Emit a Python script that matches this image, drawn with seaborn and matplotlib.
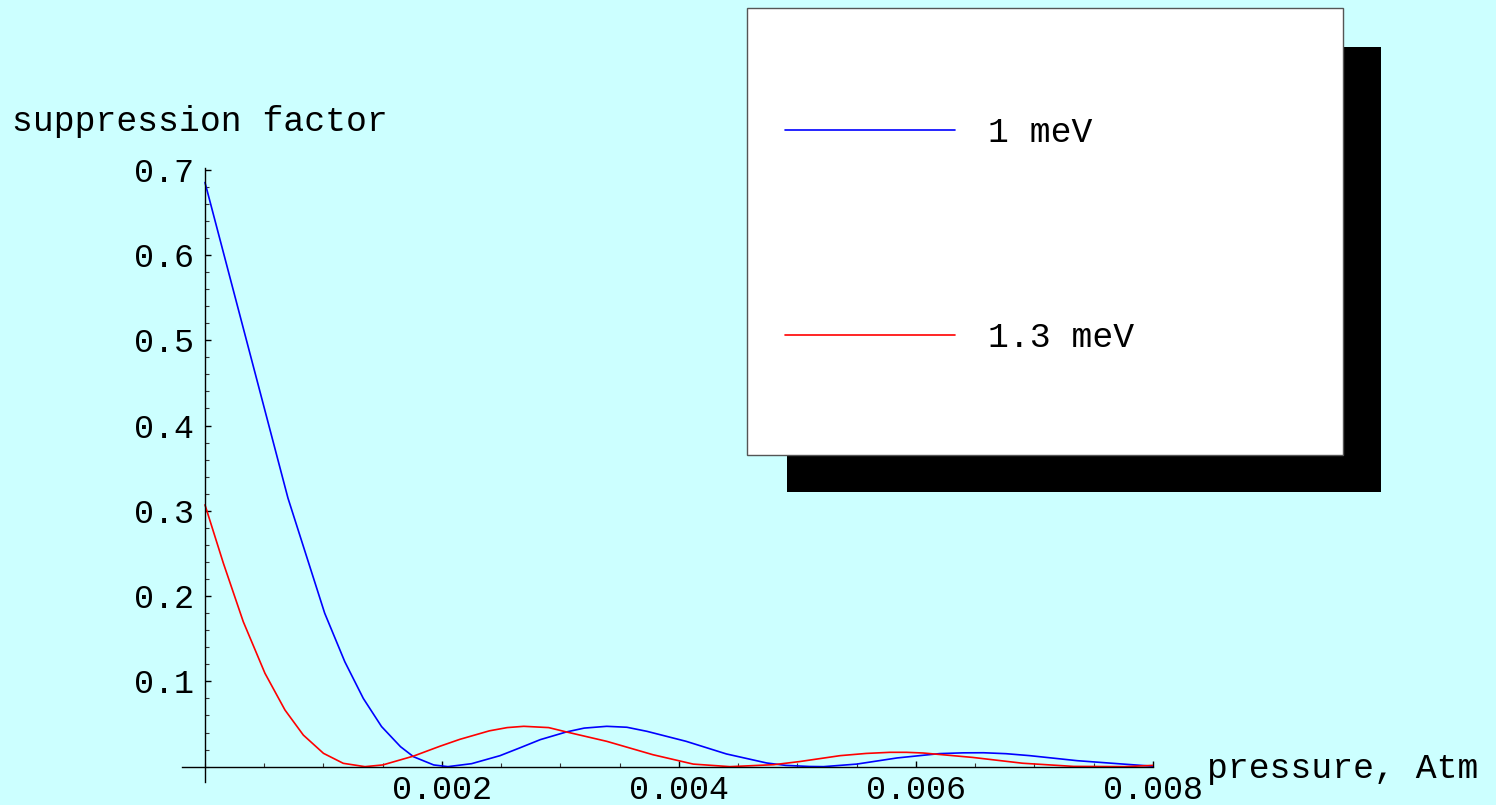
import pandas as pd
import matplotlib
matplotlib.use("Agg")
import matplotlib.pyplot as plt
import matplotlib.ticker as mticker
from matplotlib.patches import Rectangle
import seaborn as sns

# ─── Data ─────────────────────────────────────────────────────────────────────

labels = ["1 meV", "1.3 meV"]

p_1mev = [0.0, 0.0007, 0.00101, 0.00118, 0.001336, 0.00149, 0.00165, 0.00176,
          0.00193, 0.00205, 0.00225, 0.00249, 0.00266, 0.00283, 0.00305, 0.0032,
          0.00339, 0.00356, 0.00373, 0.00406, 0.0044, 0.00474, 0.0049, 0.0051,
          0.00522, 0.0055, 0.00584, 0.0062, 0.0064, 0.00657, 0.00676, 0.00696,
          0.00736, 0.00775, 0.008]
s_1mev = [0.685, 0.315, 0.180, 0.123, 0.080, 0.047, 0.0234, 0.0116,
          0.002, 0.0, 0.0035, 0.0129, 0.0222, 0.0317, 0.0407, 0.0452,
          0.0473, 0.0462, 0.0414, 0.0297, 0.0149, 0.0043, 0.0015, 0.0002,
          0.0, 0.003, 0.0102, 0.0153, 0.0162, 0.0163, 0.0152, 0.0129,
          0.007, 0.003, 0.0005]

p_13mev = [0.0, 0.000155, 0.000323, 0.000506, 0.000675, 0.00083, 0.001, 0.001167,
           0.00135, 0.0015, 0.00176, 0.00198, 0.00215, 0.0024, 0.00255, 0.00269,
           0.0029, 0.00305, 0.00339, 0.00378, 0.00412, 0.00443, 0.0048, 0.00502,
           0.00536, 0.00558, 0.00578, 0.00592, 0.00606, 0.00648, 0.0069, 0.00733,
           0.00776, 0.008]
s_13mev = [0.307, 0.2386, 0.170, 0.1095, 0.0664, 0.037, 0.0156, 0.0039,
           0.0, 0.002, 0.0124, 0.0238, 0.032, 0.042, 0.0458, 0.0473,
           0.0458, 0.0407, 0.0297, 0.014, 0.003, 0.0, 0.0023, 0.006,
           0.0129, 0.0155, 0.0168, 0.0168, 0.016, 0.0108, 0.004, 0.0003,
           0.0, 0.0015]

y_ticks = [0.1, 0.2, 0.3, 0.4, 0.5, 0.6, 0.7]
x_ticks = [0.002, 0.004, 0.006, 0.008]

df = pd.concat([
    pd.DataFrame({"pressure": p_1mev, "factor": s_1mev, "energy": labels[0]}),
    pd.DataFrame({"pressure": p_13mev, "factor": s_13mev, "energy": labels[1]}),
])

# ─── Style ────────────────────────────────────────────────────────────────────

BG = "#ccffff"
FS = 25
sns.set_style("white")
plt.rcParams["font.family"] = ["Liberation Mono", "DejaVu Sans Mono"]
plt.rcParams["text.color"] = "black"

W, H = 1496, 805
fig = plt.figure(figsize=(W / 100, H / 100), dpi=100, facecolor=BG)
ax = fig.add_axes([182 / W, 1 - 782 / H, 971 / W, (782 - 168) / H])
ax.set_facecolor("none")

sns.lineplot(data=df, x="pressure", y="factor", hue="energy",
             palette={labels[0]: "#0000ff", labels[1]: "#ff0000"},
             estimator=None, sort=False, linewidth=1.2, legend=False, ax=ax)

ax.set_xlim(-0.000194, 0.008)
ax.set_ylim(-0.018, 0.702)
ax.set_xlabel("")
ax.set_ylabel("")

# Mathematica-like axes crossing at the origin
for side in ["top", "right"]:
    ax.spines[side].set_visible(False)
ax.spines["left"].set_position(("data", 0))
ax.spines["bottom"].set_position(("data", 0))
for side in ["left", "bottom"]:
    ax.spines[side].set_linewidth(1.0)
    ax.spines[side].set_color("black")

ax.set_yticks(y_ticks)
ax.set_xticks(x_ticks)
ax.yaxis.set_major_formatter(mticker.FormatStrFormatter("%.1f"))
ax.xaxis.set_major_formatter(mticker.FormatStrFormatter("%.3f"))
ax.yaxis.set_minor_locator(mticker.MultipleLocator(0.02))
ax.xaxis.set_minor_locator(mticker.MultipleLocator(0.0005))
ax.tick_params(bottom=True, left=True, which="both")
ax.tick_params(axis="both", which="major", direction="in", length=4.5, width=1,
               labelsize=24, colors="black")
ax.tick_params(axis="both", which="minor", direction="in", length=3, width=0.8,
               color="#333333")
ax.tick_params(axis="y", which="major", pad=8)
ax.tick_params(axis="x", which="major", pad=6)

fig.text(12 / W, 1 - 131 / H, "suppression factor", fontsize=FS,
         ha="left", va="baseline", color="black")
fig.text(1207 / W, 1 - 778 / H, "pressure, Atm", fontsize=FS,
         ha="left", va="baseline", color="black")

# ─── Legend box with hard shadow ──────────────────────────────────────────────

fig.patches.append(Rectangle((787 / W, 1 - 492 / H), 594 / W, 445 / H,
                             transform=fig.transFigure, facecolor="black",
                             edgecolor="none", zorder=1))
fig.patches.append(Rectangle((747 / W, 1 - 455 / H), 596 / W, 447 / H,
                             transform=fig.transFigure, facecolor="white",
                             edgecolor="#555555", linewidth=1, zorder=2))

leg = fig.legend(handles=ax.lines[:2], labels=labels, loc="upper left",
                 bbox_to_anchor=(785 / W, 1 - 116 / H), bbox_transform=fig.transFigure,
                 frameon=False, fontsize=FS, handlelength=4.9, handletextpad=0.95,
                 labelspacing=4.95, borderpad=0, borderaxespad=0)
for t in leg.get_texts():
    t.set_color("black")

plt.savefig("out.png", dpi=100, facecolor=BG)
plt.close()
